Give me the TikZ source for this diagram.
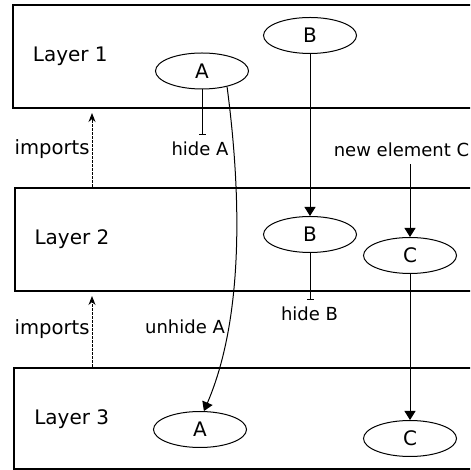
\documentclass[tikz,border=0pt]{standalone}
\usepackage{fontspec}
\setmainfont{DejaVu Sans}
\usepackage{tikz}
\usetikzlibrary{
  positioning,
  shapes.geometric,
  arrows.meta
}

\begin{document}
\begin{tikzpicture}[
      x=0.5pt, y=0.5pt,
      layerbox/.style={rectangle, draw, line width=1pt, anchor=north west, minimum width=239pt, inner sep=0pt},
      layername/.style={anchor=base, font=\fontsize{10}{12}\selectfont},
      element/.style={ellipse, draw, line width=0.5pt, minimum width=46.5pt, minimum height=18pt, inner sep=0pt, font=\fontsize{10}{12}\selectfont},
      change/.style={anchor=base, font=\fontsize{9}{11}\selectfont},
      importlabel/.style={anchor=base east, inner sep=1pt, font=\fontsize{9.8}{12}\selectfont},
      flow/.style={-{Triangle[length=4.5pt, width=5.5pt]}, line width=0.5pt},
      hidebar/.style={-{Bar[width=3.5pt]}, line width=0.5pt},
      imports/.style={-{Stealth[length=4.5pt, width=3.5pt]}, line width=0.5pt, dash pattern=on 1.5pt off 0.5pt, shorten >=2pt}
    ]
      \useasboundingbox (0,0) rectangle (470,470);
      \clip (0,0) rectangle (470,470);

      % Layers
      \node[layerbox, minimum height=51.5pt] (L1) at (12,466) {};
      \node[layerbox, minimum height=51.5pt] (L2) at (14,283) {};
      \node[layerbox, minimum height=50.75pt] (L3) at (13,103) {};
      \node[layername] (L1name) at (70.3,408.3) {Layer 1};
      \node[layername] (L2name) at (72,225) {Layer 2};
      \node[layername] (L3name) at (71.7,45.7) {Layer 3};

      % Nodes
      \node[element] (A1) at (202,399) {A};
      \node[element] (B1) at (310,434.5) {B};
      \node[element] (B2) at (310,235.5) {B};
      \node[element] (C2) at (410,214.5) {C};
      \node[element] (A3) at (200,40.5) {A};
      \node[element] (C3) at (410,31.5) {C};

      % Annotations
      \node[change] (hideA) at (200,314) {hide A};
      \node[change] (newC) at (401.5,313.3) {new element C};
      \node[change] (hideB) at (309.5,149.3) {hide B};
      \node[change] (unhideA) at (185,136) {unhide A};
      \node[importlabel] (imp1) at (92,315) {imports};
      \node[importlabel] (imp2) at (92,135) {imports};

      % Arrows
      \draw[imports] (imp1.east |- L2.north) -- (imp1.east |- L1.south);
      \draw[imports] (imp2.east |- L3.north) -- (imp2.east |- L2.south);
      \draw[hidebar] (A1.south) -- (A1.south |- hideA.north);
      \draw[hidebar] (B2.south) -- (B2.south |- hideB.north);
      \draw[flow] (B1) -- (B2);
      \draw[flow] (newC.south -| C2) -- (C2);
      \draw[flow] (C2) -- (C3);
      \draw[flow] (A1.-32) .. controls (242,270) and (243,150) .. (A3.78);
    \end{tikzpicture}
\end{document}
